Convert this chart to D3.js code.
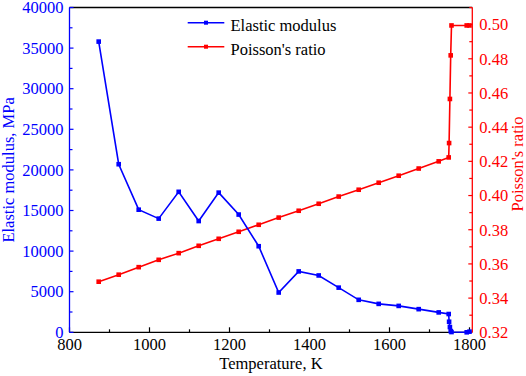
<!DOCTYPE html>
<html><head><meta charset="utf-8">
<script src="https://cdn.jsdelivr.net/npm/d3@7"></script>
<style>body{margin:0;background:#fff}svg{display:block}text{font-family:"Liberation Serif","Times New Roman",serif}</style>
</head><body><svg id="c" width="526" height="376"></svg>
<script>
const temperature = [873,923,973,1023,1073,1123,1173,1223,1273,1323,1373,1423,1473,1523,1573,1623,1673,1723,1748,1749,1751,1753,1755,1793,1800];
const elasticModulus = [35800,20700,15100,14000,17300,13700,17200,14500,10600,4900,7500,7000,5500,4000,3500,3250,2850,2450,2250,1300,650,150,30,0,80];
const poissonRatio = [0.3496,0.3537,0.3581,0.3624,0.3663,0.3706,0.3747,0.3788,0.3829,0.3871,0.3911,0.3952,0.3994,0.4034,0.4075,0.4116,0.4158,0.4200,0.4223,0.4307,0.4565,0.482,0.4995,0.4995,0.4995];
const xTicks = [800,1000,1200,1400,1600,1800];
const leftTicks = [0,5000,10000,15000,20000,25000,30000,35000,40000];
const rightTicks = [0.32,0.34,0.36,0.38,0.40,0.42,0.44,0.46,0.48,0.50];
const seriesNames = ["Elastic modulus","Poisson's ratio"];
const colors = ["#0000ff","#ff0000"];

const svg = d3.select("#c");
const L=69.5, R=472.3, T=7.5, B=332.3;
const x = d3.scaleLinear().domain([800,1807]).range([L,R]);
const yL = d3.scaleLinear().domain([0,40000]).range([B,T]);
const yR = d3.scaleLinear().domain([0.32,0.51]).range([B,T]);
const fs = "16.5px";

// bottom axis
const xMinor = d3.range(800,1801,100);
const gx = svg.append("g").attr("transform",`translate(0,${B})`);
xMinor.forEach(v=>{const major = xTicks.includes(v);
  gx.append("line").attr("x1",x(v)).attr("x2",x(v)).attr("y1",0).attr("y2",major?-5:-3).attr("stroke","#000").attr("stroke-width",1.2);});
gx.append("line").attr("x1",L).attr("x2",R).attr("y1",0).attr("y2",0).attr("stroke","#000").attr("stroke-width",1.3);
xTicks.forEach(v=>gx.append("text").attr("x",x(v)).attr("y",17.5).attr("text-anchor","middle").attr("font-size",fs).attr("fill","#000").text(v));
svg.append("text").attr("x",(L+R)/2).attr("y",369).attr("text-anchor","middle").attr("font-size",fs).text("Temperature, K");

// top border
svg.append("line").attr("x1",L).attr("x2",R).attr("y1",T).attr("y2",T).attr("stroke","#000").attr("stroke-width",1.3);

// left axis
const gl = svg.append("g");
d3.range(0,40001,2500).forEach(v=>{const major = v%5000===0;
  gl.append("line").attr("x1",L).attr("x2",L+(major?4:3)).attr("y1",yL(v)).attr("y2",yL(v)).attr("stroke",colors[0]).attr("stroke-width",1.2);});
gl.append("line").attr("x1",L).attr("x2",L).attr("y1",T).attr("y2",B).attr("stroke",colors[0]).attr("stroke-width",1.3);
leftTicks.forEach(v=>gl.append("text").attr("x",L-6).attr("y",yL(v)).attr("dy","0.35em").attr("text-anchor","end").attr("font-size",fs).attr("fill",colors[0]).text(v));
svg.append("text").attr("transform",`translate(14,${(T+B)/2}) rotate(-90)`).attr("text-anchor","middle").attr("font-size",fs).attr("fill",colors[0]).text("Elastic modulus, MPa");

// right axis
const gr = svg.append("g");
d3.range(32,52,1).forEach(k=>{const v=k/100; const major = k%2===0;
  gr.append("line").attr("x1",R).attr("x2",R-(major?4:3)).attr("y1",yR(v)).attr("y2",yR(v)).attr("stroke",colors[1]).attr("stroke-width",1.2);});
gr.append("line").attr("x1",R).attr("x2",R).attr("y1",T).attr("y2",B).attr("stroke",colors[1]).attr("stroke-width",1.3);
rightTicks.forEach(v=>gr.append("text").attr("x",R+7).attr("y",yR(v)).attr("dy","0.35em").attr("text-anchor","start").attr("font-size",fs).attr("fill",colors[1]).text(v.toFixed(2)));
svg.append("text").attr("transform",`translate(522.5,164) rotate(-90)`).attr("text-anchor","middle").attr("font-size",fs).attr("fill",colors[1]).text("Poisson's ratio");

// series
const eData = temperature.map((t,i)=>[t,elasticModulus[i]]);
const pData = temperature.map((t,i)=>[t,poissonRatio[i]]);
function drawSeries(data, yS, color){
  const line = d3.line().x(d=>x(d[0])).y(d=>yS(d[1]));
  svg.append("path").datum(data).attr("d",line).attr("fill","none").attr("stroke",color).attr("stroke-width",1.6);
  svg.append("g").selectAll("rect").data(data).join("rect")
    .attr("x",d=>x(d[0])-2.3).attr("y",d=>yS(d[1])-2.3).attr("width",4.6).attr("height",4.6).attr("fill",color);
}
drawSeries(pData, yR, colors[1]);
drawSeries(eData, yL, colors[0]);

// legend
[0,1].forEach(i=>{
  const ly = 22.7 + i*24;
  svg.append("line").attr("x1",187.7).attr("x2",224.3).attr("y1",ly).attr("y2",ly).attr("stroke",colors[i]).attr("stroke-width",1.6);
  svg.append("rect").attr("x",206-2).attr("y",ly-2).attr("width",4).attr("height",4).attr("fill",colors[i]);
  svg.append("text").attr("x",230.5).attr("y",ly+7.8).attr("font-size",fs).attr("fill","#000").text(seriesNames[i]);
});
</script></body></html>
